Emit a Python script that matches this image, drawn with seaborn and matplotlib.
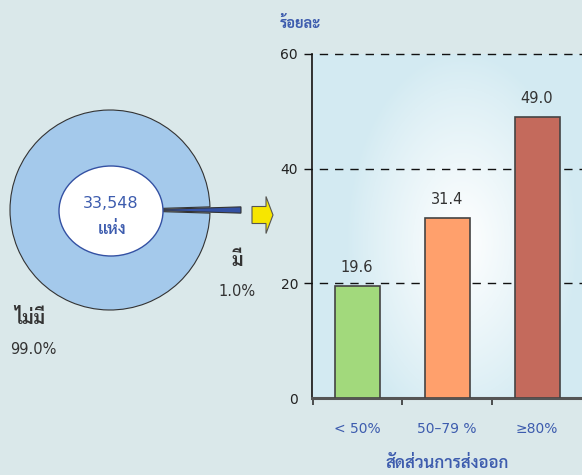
import numpy as np
import matplotlib
matplotlib.use("Agg")
import matplotlib.pyplot as plt
import seaborn as sns
from matplotlib.patches import Ellipse, FancyArrow

# data
pie_labels = ["ไม่มี", "มี"]
pie_values = [99.0, 1.0]
total_places = "33,548"
unit_text = "แห่ง"

categories = ["< 50%", "50–79 %", "≥80%"]
percent = [19.6, 31.4, 49.0]
y_ticks = [0, 20, 40, 60]

bar_colors = ["#a2d97c", "#ffa06c", "#c46a5c"]
blue_text = "#3d5cae"
bg = "#dae8ea"
thai = ["Sarabun", "Noto Sans Thai Looped", "DejaVu Sans"]

sns.set_theme(style="white")
plt.rcParams["font.family"] = ["DejaVu Sans", "Sarabun"]

fig = plt.figure(figsize=(5.82, 4.75), dpi=100)
fig.patch.set_facecolor(bg)

# ---- donut (pie) on the left ----
axp = fig.add_axes([0, 75 / 475, 290 / 582, 340 / 475])
axp.set_facecolor(bg)
start = pie_values[1] / 100 * 360 / 2
wedges, _ = axp.pie(pie_values, colors=["#a4c9eb", "#3451a3"], startangle=start,
                    explode=[0, 0.31], radius=1.0,
                    wedgeprops=dict(edgecolor="#333333", linewidth=0.8))
wedges[1].set_zorder(3)
axp.add_patch(Ellipse((0.01, -0.01), 1.04, 0.90, facecolor="white",
                      edgecolor="#3451a3", linewidth=1.0, zorder=4))
axp.text(0.01, 0.07, total_places, ha="center", va="center", color=blue_text,
         fontsize=11.5, zorder=5)
axp.text(0.02, -0.19, unit_text, ha="center", va="center", color=blue_text,
         fontsize=12, fontweight="semibold", family=thai, zorder=5)
axp.add_patch(FancyArrow(1.42, -0.05, 0.14, 0, width=0.17, head_width=0.37,
                         head_length=0.07, length_includes_head=False,
                         facecolor="#f7e600", edgecolor="#555555", linewidth=0.8, zorder=5))
axp.text(1.27, -0.51, pie_labels[1], ha="center", va="center", color="#333333",
         fontsize=13, fontweight="bold", family=thai)
axp.text(1.27, -0.82, f"{pie_values[1]:.1f}%", ha="center", va="center",
         color="#333333", fontsize=10.5)
axp.text(-0.80, -1.08, pie_labels[0], ha="center", va="center", color="#333333",
         fontsize=13, fontweight="bold", family=thai)
axp.text(-0.77, -1.39, f"{pie_values[0]:.1f}%", ha="center", va="center",
         color="#333333", fontsize=10.5)
axp.set_xlim(-1.10, 1.80)
axp.set_ylim(-1.90, 1.50)
axp.set_aspect("auto")
axp.axis("off")

# ---- bar chart on the right ----
ax = fig.add_axes([312 / 582, 77 / 475, 270 / 582, 344 / 475])
ax.set_xlim(-0.49, 2.51)
ax.set_ylim(0, 60)

# soft white glow behind the bars
gx, gy = np.meshgrid(np.linspace(-1, 1, 200), np.linspace(-1, 1, 200))
glow = np.clip(1 - np.sqrt(((gx - 0.1) / 0.85) ** 2 + ((gy + 0.1) / 1.1) ** 2), 0, 1)
base = np.array([0.83, 0.92, 0.95])
img = base + (1 - base) * glow[..., None] ** 0.9
ax.imshow(img, extent=[-0.49, 2.51, 0, 60], aspect="auto", zorder=0, origin="lower")

sns.barplot(x=categories, y=percent, hue=categories, palette=bar_colors,
            legend=False, width=0.5, edgecolor="#444444", linewidth=1.2,
            saturation=1, ax=ax, zorder=3)
for cont in ax.containers:
    ax.bar_label(cont, fmt="%.1f", padding=8, fontsize=10.5, color="#333333")

ax.set_yticks(y_ticks)
ax.set_yticklabels([str(t) for t in y_ticks], fontsize=10, color="#222222")
for t in y_ticks[1:]:
    ax.axhline(t, color="#111111", linestyle=(0, (6, 5)), linewidth=1, zorder=2,
               xmin=-0.03, clip_on=False)
ax.tick_params(axis="y", length=0, pad=10)
ax.set_xticks(range(len(categories)))
ax.set_xticklabels(categories, fontsize=10, color=blue_text)
ax.set_xticks([-0.49, 0.5, 1.5], minor=True)
ax.tick_params(axis="x", which="major", length=0, pad=17)
ax.tick_params(axis="x", which="minor", bottom=True, length=5, width=1.2, color="#333333")

for s in ["top", "right"]:
    ax.spines[s].set_visible(False)
ax.spines["left"].set_color("#111111")
ax.spines["left"].set_linewidth(1.2)
ax.spines["bottom"].set_color("#555555")
ax.spines["bottom"].set_linewidth(2.2)
ax.set_xlabel("")
ax.set_ylabel("")

fig.text(300 / 582, 1 - 23 / 475, "ร้อยละ", ha="center", va="center",
         color=blue_text, fontsize=10.5, fontweight="bold", family=thai)
fig.text(447 / 582, 1 - 463 / 475, "สัดส่วนการส่งออก", ha="center", va="center",
         color=blue_text, fontsize=12, fontweight="semibold", family=thai)

fig.savefig("out.png", dpi=100, facecolor=bg)
